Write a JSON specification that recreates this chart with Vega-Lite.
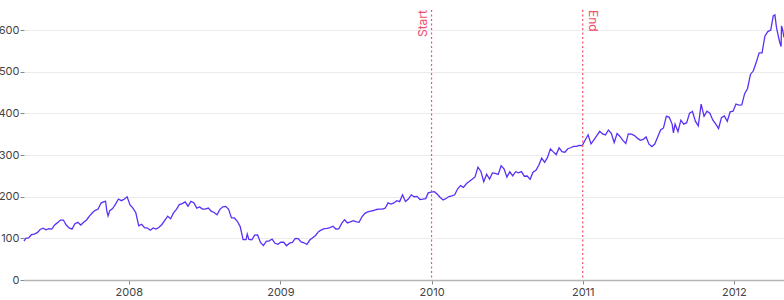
{
  "$schema": "https://vega.github.io/schema/vega-lite/v6.json",
  "width": 760,
  "height": 270,
  "autosize": {"type": "none"},
  "padding": {"left": 24, "top": 10, "right": 0, "bottom": 20},
  "config": {
    "font": "Inter",
    "view": {"stroke": null},
    "axis": {"labelFont": "Inter", "labelFontSize": 11, "labelColor": "#444", "tickColor": "#888", "title": null}
  },
  "datasets": {
    "aapl": [
      {"date":"2007-04-23","close":93.2},{"date":"2007-04-27","close":99.9},{"date":"2007-05-04","close":100.8},{"date":"2007-05-11","close":108.7},{"date":"2007-05-18","close":110.0},{"date":"2007-05-25","close":113.6},{"date":"2007-06-01","close":121.3},{"date":"2007-06-08","close":124.5},{"date":"2007-06-15","close":120.5},{"date":"2007-06-22","close":123.0},{"date":"2007-06-29","close":122.0},{"date":"2007-07-06","close":132.3},{"date":"2007-07-13","close":137.7},{"date":"2007-07-20","close":143.8},{"date":"2007-07-27","close":143.9},{"date":"2007-08-03","close":131.9},{"date":"2007-08-10","close":125.0},{"date":"2007-08-17","close":122.1},{"date":"2007-08-24","close":135.3},{"date":"2007-08-31","close":138.5},{"date":"2007-09-07","close":131.8},{"date":"2007-09-14","close":138.8},{"date":"2007-09-21","close":144.2},{"date":"2007-09-28","close":153.5},{"date":"2007-10-05","close":161.5},{"date":"2007-10-12","close":167.3},{"date":"2007-10-19","close":170.4},{"date":"2007-10-26","close":184.7},{"date":"2007-11-02","close":187.9},{"date":"2007-11-06","close":189.0},{"date":"2007-11-09","close":165.4},{"date":"2007-11-12","close":153.8},{"date":"2007-11-16","close":166.4},{"date":"2007-11-23","close":171.5},{"date":"2007-11-30","close":182.2},{"date":"2007-12-07","close":194.3},{"date":"2007-12-14","close":190.4},{"date":"2007-12-21","close":193.9},{"date":"2007-12-28","close":199.8},
      {"date":"2008-01-04","close":180.1},{"date":"2008-01-11","close":172.7},{"date":"2008-01-18","close":161.4},{"date":"2008-01-25","close":130.0},{"date":"2008-02-01","close":133.8},{"date":"2008-02-08","close":125.5},{"date":"2008-02-15","close":124.6},{"date":"2008-02-22","close":119.5},{"date":"2008-02-29","close":125.0},{"date":"2008-03-07","close":122.3},{"date":"2008-03-14","close":126.6},{"date":"2008-03-21","close":133.3},{"date":"2008-03-28","close":143.0},{"date":"2008-04-04","close":153.1},{"date":"2008-04-11","close":147.1},{"date":"2008-04-18","close":161.0},{"date":"2008-04-25","close":169.7},{"date":"2008-05-02","close":180.9},{"date":"2008-05-09","close":183.5},{"date":"2008-05-16","close":187.6},{"date":"2008-05-23","close":177.1},{"date":"2008-05-30","close":188.8},{"date":"2008-06-06","close":185.6},{"date":"2008-06-13","close":172.4},{"date":"2008-06-20","close":175.3},{"date":"2008-06-27","close":170.1},{"date":"2008-07-03","close":170.1},{"date":"2008-07-11","close":172.6},{"date":"2008-07-18","close":165.2},{"date":"2008-07-25","close":162.1},{"date":"2008-08-01","close":156.7},{"date":"2008-08-08","close":169.6},{"date":"2008-08-15","close":175.7},{"date":"2008-08-22","close":176.8},{"date":"2008-08-29","close":169.5},{"date":"2008-09-05","close":148.9},{"date":"2008-09-12","close":148.9},{"date":"2008-09-19","close":140.9},{"date":"2008-09-26","close":128.2},{"date":"2008-10-03","close":97.1},{"date":"2008-10-10","close":96.8},{"date":"2008-10-13","close":110.3},{"date":"2008-10-17","close":97.4},{"date":"2008-10-24","close":96.4},{"date":"2008-10-31","close":107.6},{"date":"2008-11-07","close":108.0},{"date":"2008-11-14","close":90.2},{"date":"2008-11-21","close":82.6},{"date":"2008-11-28","close":92.7},{"date":"2008-12-05","close":94.0},{"date":"2008-12-12","close":98.3},{"date":"2008-12-19","close":88.2},{"date":"2008-12-26","close":85.8},
      {"date":"2009-01-02","close":90.8},{"date":"2009-01-09","close":90.6},{"date":"2009-01-16","close":82.3},{"date":"2009-01-23","close":88.4},{"date":"2009-01-30","close":90.1},{"date":"2009-02-06","close":99.7},{"date":"2009-02-13","close":99.2},{"date":"2009-02-20","close":91.2},{"date":"2009-02-27","close":89.3},{"date":"2009-03-06","close":85.3},{"date":"2009-03-13","close":95.9},{"date":"2009-03-20","close":101.6},{"date":"2009-03-27","close":106.9},{"date":"2009-04-03","close":116.0},{"date":"2009-04-09","close":119.6},{"date":"2009-04-17","close":123.4},{"date":"2009-04-24","close":123.9},{"date":"2009-05-01","close":125.8},{"date":"2009-05-08","close":129.2},{"date":"2009-05-15","close":122.4},{"date":"2009-05-22","close":122.5},{"date":"2009-05-29","close":135.8},{"date":"2009-06-05","close":144.7},{"date":"2009-06-12","close":137.0},{"date":"2009-06-19","close":139.5},{"date":"2009-06-26","close":142.4},{"date":"2009-07-02","close":140.0},{"date":"2009-07-10","close":138.5},{"date":"2009-07-17","close":151.8},{"date":"2009-07-24","close":160.0},{"date":"2009-07-31","close":163.4},{"date":"2009-08-07","close":165.5},{"date":"2009-08-14","close":166.8},{"date":"2009-08-21","close":169.2},{"date":"2009-08-28","close":170.1},{"date":"2009-09-04","close":170.3},{"date":"2009-09-11","close":172.2},{"date":"2009-09-18","close":185.0},{"date":"2009-09-25","close":182.4},{"date":"2009-10-02","close":184.9},{"date":"2009-10-09","close":190.5},{"date":"2009-10-16","close":188.1},{"date":"2009-10-23","close":204.5},{"date":"2009-10-30","close":188.5},{"date":"2009-11-06","close":194.3},{"date":"2009-11-13","close":204.5},{"date":"2009-11-20","close":199.9},{"date":"2009-11-27","close":200.6},{"date":"2009-12-04","close":193.3},{"date":"2009-12-11","close":194.0},{"date":"2009-12-18","close":195.4},{"date":"2009-12-24","close":209.0},{"date":"2009-12-31","close":210.7},
      {"date":"2010-01-08","close":212.0},{"date":"2010-01-15","close":205.9},{"date":"2010-01-22","close":197.9},{"date":"2010-01-29","close":192.1},{"date":"2010-02-05","close":195.5},{"date":"2010-02-12","close":200.4},{"date":"2010-02-19","close":201.7},{"date":"2010-02-26","close":204.6},{"date":"2010-03-05","close":219.0},{"date":"2010-03-12","close":226.6},{"date":"2010-03-19","close":222.3},{"date":"2010-03-26","close":230.9},{"date":"2010-04-01","close":236.0},{"date":"2010-04-09","close":241.8},{"date":"2010-04-16","close":247.4},{"date":"2010-04-23","close":270.8},{"date":"2010-04-30","close":261.1},{"date":"2010-05-07","close":235.9},{"date":"2010-05-14","close":253.8},{"date":"2010-05-21","close":242.3},{"date":"2010-05-28","close":256.9},{"date":"2010-06-04","close":256.0},{"date":"2010-06-11","close":253.5},{"date":"2010-06-18","close":274.1},{"date":"2010-06-25","close":266.7},{"date":"2010-07-02","close":246.9},{"date":"2010-07-09","close":259.6},{"date":"2010-07-16","close":249.9},{"date":"2010-07-23","close":259.9},{"date":"2010-07-30","close":257.3},{"date":"2010-08-06","close":260.1},{"date":"2010-08-13","close":249.1},{"date":"2010-08-20","close":249.6},{"date":"2010-08-27","close":241.6},{"date":"2010-09-03","close":258.8},{"date":"2010-09-10","close":263.4},{"date":"2010-09-17","close":275.4},{"date":"2010-09-24","close":292.3},{"date":"2010-10-01","close":282.5},{"date":"2010-10-08","close":294.1},{"date":"2010-10-15","close":314.7},{"date":"2010-10-22","close":307.5},{"date":"2010-10-29","close":301.0},{"date":"2010-11-05","close":317.1},{"date":"2010-11-12","close":308.0},{"date":"2010-11-19","close":306.7},{"date":"2010-11-26","close":315.0},{"date":"2010-12-03","close":317.4},{"date":"2010-12-10","close":320.6},{"date":"2010-12-17","close":320.6},{"date":"2010-12-23","close":323.3},{"date":"2010-12-31","close":322.6},
      {"date":"2011-01-07","close":336.1},{"date":"2011-01-14","close":348.5},{"date":"2011-01-21","close":326.7},{"date":"2011-01-28","close":336.1},{"date":"2011-02-04","close":346.5},{"date":"2011-02-11","close":356.9},{"date":"2011-02-18","close":350.6},{"date":"2011-02-25","close":348.2},{"date":"2011-03-04","close":360.0},{"date":"2011-03-11","close":352.0},{"date":"2011-03-18","close":330.0},{"date":"2011-03-25","close":351.5},{"date":"2011-04-01","close":344.6},{"date":"2011-04-08","close":335.1},{"date":"2011-04-15","close":327.5},{"date":"2011-04-21","close":350.7},{"date":"2011-04-29","close":350.1},{"date":"2011-05-06","close":346.7},{"date":"2011-05-13","close":340.5},{"date":"2011-05-20","close":335.2},{"date":"2011-05-27","close":337.4},{"date":"2011-06-03","close":343.4},{"date":"2011-06-10","close":325.9},{"date":"2011-06-17","close":320.3},{"date":"2011-06-24","close":326.4},{"date":"2011-07-01","close":343.3},{"date":"2011-07-08","close":360.0},{"date":"2011-07-15","close":364.9},{"date":"2011-07-22","close":393.3},{"date":"2011-07-29","close":390.5},{"date":"2011-08-05","close":373.6},{"date":"2011-08-08","close":353.2},{"date":"2011-08-12","close":374.0},{"date":"2011-08-19","close":356.0},{"date":"2011-08-26","close":383.6},{"date":"2011-09-02","close":374.1},{"date":"2011-09-09","close":377.5},{"date":"2011-09-16","close":400.5},{"date":"2011-09-23","close":404.3},{"date":"2011-09-30","close":381.3},{"date":"2011-10-07","close":369.8},{"date":"2011-10-14","close":422.0},{"date":"2011-10-21","close":392.9},{"date":"2011-10-28","close":405.0},{"date":"2011-11-04","close":400.2},{"date":"2011-11-11","close":384.1},{"date":"2011-11-18","close":374.9},{"date":"2011-11-25","close":363.6},{"date":"2011-12-02","close":389.7},{"date":"2011-12-09","close":393.6},{"date":"2011-12-16","close":381.0},{"date":"2011-12-23","close":403.4},{"date":"2011-12-30","close":405.0},
      {"date":"2012-01-06","close":422.4},{"date":"2012-01-13","close":419.8},{"date":"2012-01-20","close":420.3},{"date":"2012-01-27","close":447.3},{"date":"2012-02-03","close":459.7},{"date":"2012-02-10","close":493.4},{"date":"2012-02-17","close":502.1},{"date":"2012-02-24","close":522.4},{"date":"2012-03-02","close":545.2},{"date":"2012-03-09","close":545.2},{"date":"2012-03-16","close":585.6},{"date":"2012-03-23","close":596.1},{"date":"2012-03-30","close":599.6},{"date":"2012-04-05","close":633.7},{"date":"2012-04-09","close":636.2},{"date":"2012-04-13","close":605.2},{"date":"2012-04-20","close":573.0},{"date":"2012-04-24","close":560.3},{"date":"2012-04-25","close":610.0},{"date":"2012-04-27","close":603.0},{"date":"2012-05-01","close":582.1}
    ],
    "marks": [
      {"date":"2010-01-01","label":"Start","top":648},
      {"date":"2011-01-01","label":"End","top":648}
    ]
  },
  "layer": [
    {
      "data": {"name": "aapl"},
      "mark": {"type": "line", "color": "#5b30f6", "strokeWidth": 1.3},
      "encoding": {
        "x": {
          "field": "date", "type": "temporal",
          "scale": {"domain": ["2007-04-23", "2012-05-01"], "nice": false},
          "axis": {"format": "%Y", "tickCount": {"interval": "year", "step": 1}, "grid": false, "domainColor": "#b5b5b5", "domainWidth": 1.5, "tickSize": 4, "labelPadding": 2, "labelFlush": false}
        },
        "y": {
          "field": "close", "type": "quantitative",
          "scale": {"domain": [0, 648], "nice": false},
          "axis": {"values": [0, 100, 200, 300, 400, 500, 600], "domain": false, "grid": true, "gridColor": "#ebebeb", "tickSize": 4, "labelPadding": 1}
        }
      }
    },
    {
      "data": {"name": "marks"},
      "mark": {"type": "rule", "color": "#f2506c", "strokeDash": [2, 2.5], "strokeWidth": 1.2},
      "encoding": {"x": {"field": "date", "type": "temporal"}}
    },
    {
      "data": {"name": "marks"},
      "transform": [{"filter": "datum.label == 'Start'"}],
      "mark": {"type": "text", "color": "#f2506c", "angle": 270, "align": "right", "baseline": "bottom", "dy": -2, "fontSize": 12},
      "encoding": {
        "x": {"field": "date", "type": "temporal"},
        "y": {"field": "top", "type": "quantitative"},
        "text": {"field": "label"}
      }
    },
    {
      "data": {"name": "marks"},
      "transform": [{"filter": "datum.label == 'End'"}],
      "mark": {"type": "text", "color": "#f2506c", "angle": 90, "align": "left", "baseline": "bottom", "dy": -3, "fontSize": 12},
      "encoding": {
        "x": {"field": "date", "type": "temporal"},
        "y": {"field": "top", "type": "quantitative"},
        "text": {"field": "label"}
      }
    }
  ]
}
